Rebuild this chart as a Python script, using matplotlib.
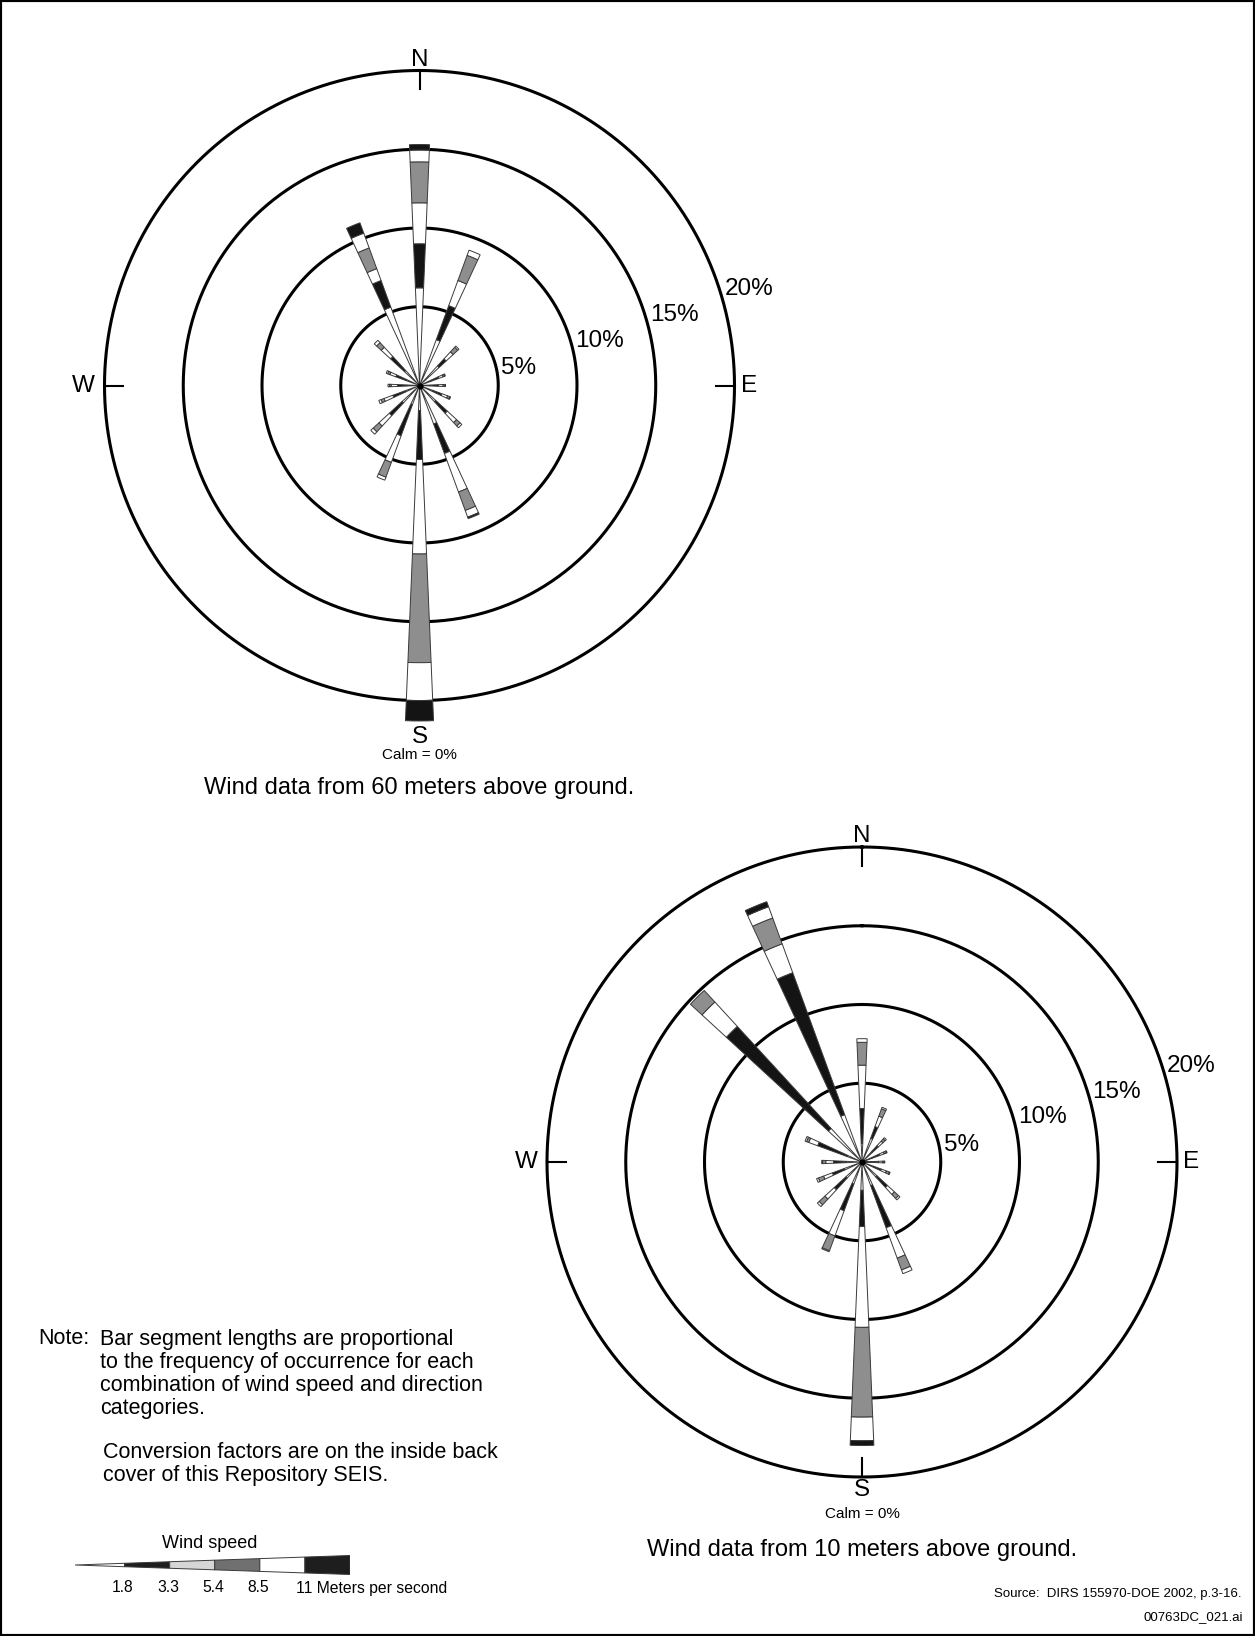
import numpy as np
import matplotlib
matplotlib.use("Agg")
import matplotlib.pyplot as plt
from matplotlib.patches import Rectangle, Polygon

plt.rcParams["font.family"] = ["Liberation Sans", "DejaVu Sans"]

# ---------------------------------------------------------------
# wind rose data (% frequency), 16 directions clockwise from N
# one list per wind-speed class, from calm to strongest
# ---------------------------------------------------------------
directions = ["N", "NNE", "NE", "ENE", "E", "ESE", "SE", "SSE",
              "S", "SSW", "SW", "WSW", "W", "WNW", "NW", "NNW"]

# 60 m tower
h60_lt18 = [6.2, 3.1, 1.7, 0.8, 0.7, 0.9, 1.4, 2.6, 1.6, 1.3, 1.5, 1.0, 0.8, 0.9, 1.3, 5.3]
h60_18_33 = [2.8, 2.3, 0.6, 0.5, 0.5, 0.6, 1.0, 2.0, 3.1, 2.1, 1.1, 0.8, 0.6, 0.7, 1.2, 1.8]
h60_33_54 = [2.6, 1.7, 0.6, 0.3, 0.3, 0.4, 0.8, 2.6, 6.0, 1.8, 0.9, 0.6, 0.4, 0.4, 0.8, 0.8]
h60_54_85 = [2.6, 1.7, 0.4, 0.1, 0.1, 0.15, 0.3, 1.25, 6.9, 1.0, 0.5, 0.2, 0.1, 0.15, 0.4, 1.4]
h60_85_11 = [0.75, 0.35, 0.1, 0.05, 0.05, 0.05, 0.15, 0.45, 2.4, 0.2, 0.2, 0.15, 0.1, 0.1, 0.2, 1.0]
h60_gt11 = [0.35, 0.0, 0.0, 0.0, 0.0, 0.0, 0.0, 0.1, 1.3, 0.0, 0.0, 0.0, 0.0, 0.0, 0.0, 0.7]

# 10 m tower
h10_lt18 = [1.2, 1.6, 0.9, 0.7, 0.6, 0.8, 1.3, 1.6, 1.8, 1.5, 1.4, 1.2, 1.0, 1.0, 2.9, 3.2]
h10_18_33 = [2.2, 0.8, 0.5, 0.5, 0.45, 0.5, 0.9, 2.85, 2.3, 1.8, 1.0, 0.8, 0.8, 2.0, 8.8, 9.6]
h10_33_54 = [2.75, 0.7, 0.4, 0.3, 0.25, 0.35, 0.6, 2.05, 6.4, 1.7, 0.8, 0.6, 0.5, 0.6, 2.1, 1.95]
h10_54_85 = [1.45, 0.5, 0.2, 0.15, 0.1, 0.2, 0.35, 0.8, 5.7, 1.0, 0.5, 0.35, 0.2, 0.15, 1.0, 1.75]
h10_85_11 = [0.23, 0.1, 0.1, 0.05, 0.05, 0.05, 0.12, 0.25, 1.5, 0.07, 0.15, 0.12, 0.06, 0.1, 0.0, 0.76]
h10_gt11 = [0.0, 0.0, 0.0, 0.0, 0.0, 0.0, 0.0, 0.0, 0.3, 0.0, 0.0, 0.0, 0.0, 0.0, 0.0, 0.34]

speed_labels = ["1.8", "3.3", "5.4", "8.5", "11"]
ring_levels = [5, 10, 15, 20]

speed_colors = ["white", "#141414", "white", "#8e8e8e", "white", "#141414"]
legend_colors = ["white", "#1e1e1e", "#d6d6d6", "#707070", "white", "#1e1e1e"]

W, H = 1255, 1636
PX_PER_PCT = 15.75
R_MAX = 24

fig = plt.figure(figsize=(W / 100, H / 100), dpi=100)


def fig_xy(x, y):
    # pixel position (from top-left) -> figure fraction
    return x / W, 1 - y / H


def draw_rose(cx, cy, classes):
    half = R_MAX * PX_PER_PCT
    ax = fig.add_axes([(cx - half) / W, (H - cy - half) / H,
                       2 * half / W, 2 * half / H], projection="polar")
    ax.set_theta_zero_location("N")
    ax.set_theta_direction(-1)
    ax.set_ylim(0, R_MAX)
    ax.set_axis_off()

    # range rings
    t = np.linspace(0, 2 * np.pi, 721)
    for r in ring_levels:
        ax.plot(t, np.full_like(t, r), color="black", lw=2.2, zorder=2)

    # cardinal tick marks on the outer ring
    for th in np.deg2rad([0, 90, 180, 270]):
        ax.plot([th, th], [18.8, 20], color="black", lw=1.5, zorder=2)

    # stacked wedge bars
    theta = np.deg2rad(np.arange(len(directions)) * 22.5)
    width = np.deg2rad(4.8)
    base = np.zeros(len(directions))
    for k, vals in enumerate(classes):
        vals = np.asarray(vals, dtype=float)
        m = vals > 0
        ax.bar(theta[m], vals[m], width=width, bottom=base[m],
               color=speed_colors[k], edgecolor="#3a3a3a",
               linewidth=0.7, zorder=3)
        base += vals
    ax.plot([0], [0], "o", color="black", ms=3.5, zorder=4)

    # ring labels
    for r, ang in zip(ring_levels, [78, 74, 73, 72.5]):
        ax.text(np.deg2rad(ang), r + 0.3, f"{r}%", ha="left", va="center",
                fontsize=17.5)

    ax.text(0, 20.3, "N", ha="center", va="baseline", fontsize=17.5)
    ax.text(np.pi / 2, 20.4, "E", ha="left", va="center", fontsize=17.5)
    ax.text(3 * np.pi / 2, 20.6, "W", ha="right", va="center", fontsize=17.5)
    s_r = max(20.1, base[8] + 0.35)
    ax.text(np.pi, s_r, "S", ha="center", va="top", fontsize=17.5)
    return ax


draw_rose(419.5, 385.5, [h60_lt18, h60_18_33, h60_33_54, h60_54_85, h60_85_11, h60_gt11])
draw_rose(862, 1162, [h10_lt18, h10_18_33, h10_33_54, h10_54_85, h10_85_11, h10_gt11])

fig.text(*fig_xy(419.5, 755), "Calm = 0%", ha="center", va="center", fontsize=11)
fig.text(*fig_xy(419.5, 788), "Wind data from 60 meters above ground.",
         ha="center", va="center", fontsize=17)
fig.text(*fig_xy(862, 1514), "Calm = 0%", ha="center", va="center", fontsize=11)
fig.text(*fig_xy(862, 1550), "Wind data from 10 meters above ground.",
         ha="center", va="center", fontsize=17)

# note block
fig.text(*fig_xy(38, 1339), "Note:", ha="left", va="center", fontsize=15.5)
fig.text(*fig_xy(100, 1329),
         "Bar segment lengths are proportional\n"
         "to the frequency of occurrence for each\n"
         "combination of wind speed and direction\n"
         "categories.",
         ha="left", va="top", fontsize=15.5, linespacing=1.12)
fig.text(*fig_xy(103, 1442),
         "Conversion factors are on the inside back\n"
         "cover of this Repository SEIS.",
         ha="left", va="top", fontsize=15.5, linespacing=1.12)

# wind speed key
leg = fig.add_axes([75 / W, (H - 1575) / H, 275 / W, 20 / H])
leg.set_xlim(-0.1, 6.0)
leg.set_ylim(-1, 1)
leg.set_axis_off()
edges = [-0.1, 1, 2, 3, 4, 5, 6]


def half_h(x):
    return 0.95 * (x - edges[0]) / (edges[-1] - edges[0])


for i in range(len(edges) - 1):
    a, b = edges[i], edges[i + 1]
    poly = Polygon([(a, -half_h(a)), (b, -half_h(b)), (b, half_h(b)), (a, half_h(a))],
                   closed=True, facecolor=legend_colors[i], edgecolor="#3a3a3a", lw=0.7)
    leg.add_patch(poly)
for i, lab in enumerate(speed_labels[:-1]):
    leg.text(i + 1 - 0.04, -2.3, lab, ha="center", va="center", fontsize=11.3, clip_on=False)
leg.text(4.8, -2.3, speed_labels[-1] + " Meters per second", ha="left", va="center",
         fontsize=11.3, clip_on=False)
leg.text(2.89, 2.1, "Wind speed", ha="center", va="center", fontsize=13, clip_on=False)

fig.text(*fig_xy(1242, 1594), "Source:  DIRS 155970-DOE 2002, p.3-16.",
         ha="right", va="center", fontsize=9.5)
fig.text(*fig_xy(1243, 1617), "00763DC_021.ai", ha="right", va="center", fontsize=9.5)

# page frame
fig.patches.append(Rectangle((0, 0), 1, 1, transform=fig.transFigure, fill=False,
                             lw=3, edgecolor="black"))

fig.savefig("out.png", dpi=100, facecolor="white")
